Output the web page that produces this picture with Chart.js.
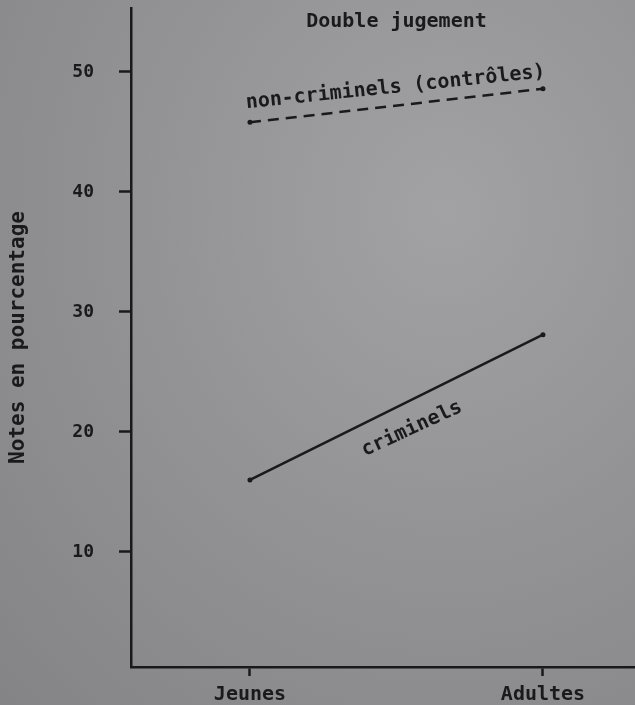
<!DOCTYPE html>
<html>
<head>
<meta charset="utf-8">
<script src="https://cdn.jsdelivr.net/npm/chart.js@4.4.0/dist/chart.umd.min.js"></script>
<style>
  html, body { margin: 0; padding: 0; }
  body {
    width: 635px; height: 705px; overflow: hidden;
    background: radial-gradient(ellipse at 70% 30%, #a2a2a5 0%, #949497 45%, #848487 100%);
  }
  #wrap { width: 635px; height: 705px; }
</style>
</head>
<body>
<div id="wrap"><canvas id="myChart"></canvas></div>
<script>
// data
const categories = ['Jeunes', 'Adultes'];
const nonCriminels = [45.8, 48.6];
const criminels = [16, 28.1];
const yTicks = [10, 20, 30, 40, 50];
const seriesLabels = ['non-criminels (contrôles)', 'criminels'];
const chartTitle = 'Double jugement';
const yTitle = 'Notes en pourcentage';

const ink = '#1a1a1c';
const mono = "'DejaVu Sans Mono', 'Liberation Mono', monospace";

// turn the arrays into {x,y} points, x = index of the category
function toPoints(values) {
	return values.map((v, i) => ({x: i, y: v}));
}

// writes the slanted series names and the title
const labelPlugin = {
	id: 'lineLabels',
	afterDatasetsDraw(chart) {
		const ctx = chart.ctx;
		const xs = chart.scales.x;
		const ys = chart.scales.y;

		// title over the middle of the two categories
		ctx.save();
		ctx.fillStyle = ink;
		ctx.font = 'bold 20px ' + mono;
		ctx.textAlign = 'center';
		ctx.textBaseline = 'middle';
		ctx.fillText(chartTitle, xs.getPixelForValue(0.5), 22);
		ctx.restore();

		// [dataset index, offset along, offset across the line (px)]
		const placements = [[0, 1, -18], [1, 5, 26]];
		placements.forEach(([di, along, off]) => {
			const data = chart.data.datasets[di].data;
			const x0 = xs.getPixelForValue(data[0].x), y0 = ys.getPixelForValue(data[0].y);
			const x1 = xs.getPixelForValue(data[1].x), y1 = ys.getPixelForValue(data[1].y);
			const angle = Math.atan2(y1 - y0, x1 - x0);
			ctx.save();
			ctx.translate((x0 + x1) / 2, (y0 + y1) / 2);
			ctx.rotate(di === 1 ? angle + 0.03 : angle + 0.01);
			ctx.fillStyle = ink;
			ctx.font = 'bold 20px ' + mono;
			ctx.textAlign = 'center';
			ctx.textBaseline = 'middle';
			ctx.fillText(seriesLabels[di], along, off);
			ctx.restore();
		});
	}
};

const myChart = document.getElementById('myChart');

let lineChart = new Chart(myChart, {
	type: 'line',
	data: {
		datasets: [{
			label: seriesLabels[0],
			data: toPoints(nonCriminels),
			borderColor: ink,
			borderWidth: 2.5,
			borderDash: [11, 7],
			pointRadius: 2.5,
			pointBackgroundColor: ink,
			pointBorderWidth: 0,
			fill: false
		}, {
			label: seriesLabels[1],
			data: toPoints(criminels),
			borderColor: ink,
			borderWidth: 2.5,
			pointRadius: 2.5,
			pointBackgroundColor: ink,
			pointBorderWidth: 0,
			fill: false
		}]
	},
	options: {
		responsive: true,
		maintainAspectRatio: false,
		animation: false,
		layout: {
			autoPadding: false,
			padding: {top: 8, left: 6, right: 0, bottom: 0}
		},
		plugins: {
			legend: {display: false},
			tooltip: {enabled: false}
		},
		scales: {
			x: {
				type: 'linear',
				min: -0.406,
				max: 1.314,
				afterBuildTicks: s => { s.ticks = categories.map((c, i) => ({value: i})); },
				afterFit: s => {
					s.height = 38;
					s.paddingLeft = 0; s.paddingRight = 0;
				},
				ticks: {
					callback: v => categories[v],
					color: ink,
					font: {family: mono, size: 20, weight: 'bold'},
					padding: 7,
					maxRotation: 0
				},
				grid: {
					drawOnChartArea: false,
					tickLength: 9,
					tickColor: ink,
					tickWidth: 2.5
				},
				border: {display: true, color: ink, width: 2.5}
			},
			y: {
				min: 0.41,
				max: 55.33,
				afterBuildTicks: s => { s.ticks = yTicks.map(v => ({value: v})); },
				afterFit: s => {
					s.width = 125;
					s.paddingTop = 0; s.paddingBottom = 0;
				},
				ticks: {
					color: ink,
					font: {family: mono, size: 18, weight: 'bold'},
					padding: 25
				},
				grid: {
					drawOnChartArea: false,
					tickLength: 12,
					tickColor: ink,
					tickWidth: 2.5
				},
				border: {display: true, color: ink, width: 2.5},
				title: {
					display: true,
					text: yTitle,
					color: ink,
					font: {family: mono, size: 21, weight: 'bold'},
					padding: {top: 0, bottom: 0}
				}
			}
		}
	},
	plugins: [labelPlugin]
});
</script>
</body>
</html>
